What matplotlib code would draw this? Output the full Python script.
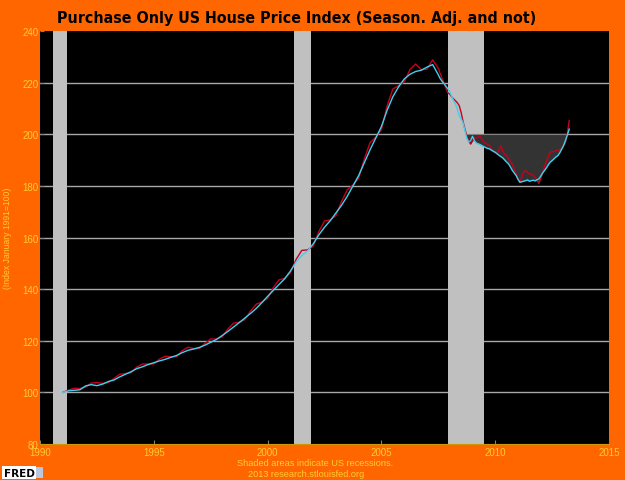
import matplotlib
matplotlib.use("Agg")
import matplotlib.pyplot as plt
import numpy as np

# quarterly dates Jan 1991 .. Apr 2007, then monthly Jul 2007 .. Apr 2013
years_q = [1991 + q * 0.25 for q in range(66)]
years_m = [2007.5 + m / 12 for m in range(70)]

# seasonally adjusted index (cyan)
sa_q = [
	100.0, 100.6, 100.8, 101.0, 102.5, 103.0, 102.6, 103.2,
	104.2, 104.8, 106.0, 107.0, 108.0, 109.2, 109.9, 110.8,
	111.5, 112.2, 112.8, 113.6, 114.3, 115.4, 116.3, 116.8,
	117.4, 118.3, 119.4, 120.5, 122.0, 123.6, 125.3, 127.0,
	128.8, 130.6, 132.5, 134.8, 137.2, 139.5, 141.8, 144.0,
	147.0, 150.5, 153.0, 154.8, 157.5, 161.0, 164.0, 166.5,
	169.5, 172.5, 176.0, 180.0, 184.0, 189.0, 194.0, 198.5,
	203.0, 209.3, 214.5, 218.3, 221.4, 223.2, 224.3, 224.8,
	226.0, 227.0,
]
sa_m = [
	223.0, 221.5, 220.5, 219.6, 218.6, 217.6, 216.5, 214.8, 213.0, 211.7,
	209.8, 207.2, 206.0, 204.5, 201.5, 198.5, 197.0, 197.5, 199.2, 197.5,
	196.6, 196.3, 196.0, 195.6, 195.2, 194.8, 194.5, 194.3, 193.8, 193.4,
	193.0, 192.4, 191.8, 191.3, 190.8, 190.0, 189.2, 188.5, 187.3, 186.0,
	185.0, 184.0, 182.5, 181.4, 181.6, 181.8, 182.0, 182.3, 181.8, 182.0,
	182.2, 181.9, 182.4, 182.7, 183.8, 185.0, 186.0, 187.0, 188.2, 189.2,
	189.8, 190.5, 191.2, 191.7, 192.8, 194.2, 195.6, 197.5, 199.8, 202.0,
]

# not seasonally adjusted index (red)
nsa_q = [
	100.0, 100.9, 101.6, 101.5, 102.0, 103.6, 103.8, 103.5,
	103.8, 105.4, 107.0, 107.3, 107.6, 109.8, 111.0, 111.0,
	111.0, 112.9, 114.0, 113.8, 113.8, 116.2, 117.5, 117.0,
	117.0, 119.0, 120.7, 120.7, 121.5, 124.5, 126.8, 127.2,
	128.2, 131.5, 134.2, 135.0, 136.4, 140.6, 143.6, 144.2,
	146.3, 151.5, 155.0, 155.2, 156.6, 162.3, 166.4, 166.8,
	168.5, 174.0, 178.5, 180.3, 183.0, 190.5, 196.8, 198.8,
	201.8, 211.0, 217.5, 218.8, 220.3, 225.0, 227.2, 225.0,
	225.2, 228.8,
]
nsa_m = [
	225.5, 223.5, 221.5, 219.8, 217.8, 216.0, 215.6, 214.5, 213.7, 213.0,
	212.2, 211.1, 208.5, 205.0, 202.0, 199.5, 197.5, 196.2, 197.5, 198.8,
	198.5, 199.0, 199.2, 198.0, 196.9, 196.5, 196.0, 195.6, 194.5, 193.3,
	193.0, 192.4, 194.0, 195.6, 193.5, 192.2, 191.7, 190.5, 189.3, 188.5,
	186.5, 184.5, 182.7, 181.4, 183.5, 185.5, 185.9, 185.2, 184.6, 184.6,
	184.0, 183.3, 182.0, 181.0, 183.0, 185.0, 187.8, 189.5, 191.5, 193.0,
	193.2, 193.4, 193.6, 193.8, 194.0, 194.3, 195.5, 196.9, 200.5, 205.3,
]

recessions = [(1990.58, 1991.17), (2001.17, 2001.92), (2007.92, 2009.5)]
fill_start = 2008.75
fill_level = 200

orange = "#FF6600"
yellow = "#FFCC33"

fig = plt.figure(figsize=(6.25, 4.81), dpi=100, facecolor=orange)
ax = fig.add_axes([0.064, 0.0748, 0.9105, 0.8587])
ax.set_facecolor("black")

for y in range(100, 240, 20):
	ax.axhline(y, color="#A8A8A8", lw=1, zorder=1)

for a, b in recessions:
	ax.axvspan(a, b, color="#C0C0C0", lw=0, zorder=2)

x = np.array(years_q + years_m)
sa = np.array(sa_q + sa_m)
nsa = np.array(nsa_q + nsa_m)
low = np.minimum(sa, nsa)
mask = x >= fill_start
ax.fill_between(x, low, fill_level, where=mask & (low <= fill_level + 0.5),
	interpolate=True, color="#333333", lw=0, zorder=3)
ax.plot([fill_start, 2013.17], [fill_level, fill_level], color="#808080", lw=0.8, zorder=3)

ax.plot(x, nsa, color="#C8001E", lw=1, zorder=4)
ax.plot(x, sa, color="#40D0F0", lw=1, zorder=5)

ax.set_xlim(1990, 2015)
ax.set_ylim(80, 240)
ax.set_xticks(range(1990, 2016, 5))
ax.set_yticks(range(80, 241, 20))
ax.tick_params(colors="#808080", labelcolor=yellow, labelsize=7, direction="in", length=3, pad=1)
ax.tick_params(axis="x", pad=2)
for lab in ax.get_xticklabels() + ax.get_yticklabels():
	lab.set_family("Liberation Sans")
for s in ax.spines.values():
	s.set_visible(False)
ax.spines["bottom"].set_visible(True)
ax.spines["bottom"].set_color("#CC9900")

fig.text(0.0128, 0.505, "(Index January 1991=100)", rotation=90, color=yellow,
	fontsize=6.2, family="Liberation Sans", ha="center", va="center")

fig.text(0.475, 0.962, "Purchase Only US House Price Index (Season. Adj. and not)",
	color="black", fontsize=11.4, fontweight="bold", family="DejaVu Sans",
	fontstretch="condensed", ha="center", va="center")

fig.text(0.504, 0.037, "Shaded areas indicate US recessions.", color=yellow,
	fontsize=6.6, family="Liberation Sans", ha="center", va="center")
fig.text(0.49, 0.014, "2013 research.stlouisfed.org", color=yellow,
	fontsize=6.6, family="Liberation Sans", ha="center", va="center")

fig.text(0.006, 0.015, "FRED", color="black", fontsize=7.5, fontweight="bold",
	family="DejaVu Sans", ha="left", va="center",
	bbox=dict(boxstyle="square,pad=0.15", fc="white", ec="none"))
fig.patches.append(plt.Rectangle((0.055, 0.004), 0.014, 0.024, transform=fig.transFigure,
	fc="#B8C8E0", ec="none"))

fig.savefig("out.png", dpi=100, facecolor=orange)
